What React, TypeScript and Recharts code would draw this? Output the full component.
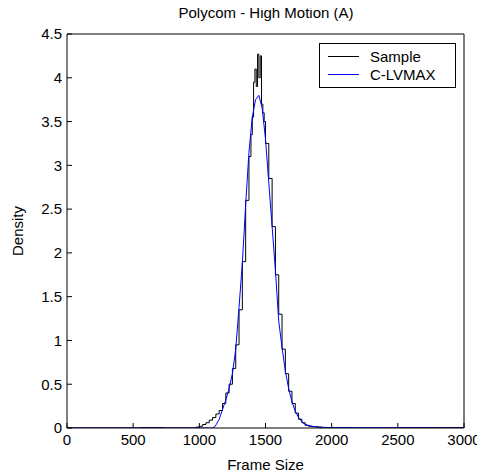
import { LineChart, Line, XAxis, YAxis } from "recharts";

// empirical histogram of frame sizes (bin start -> density, step plot)
const sampleX = [
  0, 500, 550, 600, 725, 975, 1000, 1025, 1050, 1075, 1100, 1125, 1150, 1175,
  1200, 1225, 1250, 1275, 1300, 1325, 1350, 1375, 1390, 1400, 1410, 1420,
  1430, 1440, 1450, 1460, 1470, 1480, 1490, 1500, 1525, 1550, 1575, 1600,
  1625, 1650, 1675, 1700, 1725, 1750, 1775, 1800, 1825, 1850, 1875, 1900,
  1925, 2525, 2550, 3000,
];
const sampleY = [
  0, 0, 0.005, 0.005, 0, 0.01, 0.02, 0.04, 0.06, 0.09, 0.12, 0.16, 0.2, 0.28,
  0.4, 0.5, 0.68, 0.95, 1.35, 1.9, 2.6, 3.1, 3.35, 3.55, 3.95, 4.1, 3.9, 4.27,
  4.0, 4.25, 3.7, 3.6, 3.5, 3.25, 2.85, 2.3, 1.75, 1.3, 0.9, 0.62, 0.42, 0.28,
  0.17, 0.1, 0.06, 0.03, 0.02, 0.015, 0.015, 0.01, 0, 0.005, 0.005, 0.005,
];

// fitted C-LVMAX density
const fitX = [
  0, 1100, 1120, 1150, 1200, 1225, 1250, 1275, 1300, 1325, 1350, 1375, 1400,
  1425, 1450, 1475, 1500, 1525, 1550, 1575, 1600, 1625, 1650, 1675, 1700,
  1725, 1750, 1775, 1800, 1850, 1900, 2000, 3000,
];
const fitY = [
  0, 0, 0.02, 0.1, 0.32, 0.45, 0.62, 0.9, 1.38, 1.88, 2.55, 3.15, 3.55, 3.75,
  3.8, 3.65, 3.3, 2.8, 2.3, 1.8, 1.22, 0.92, 0.65, 0.45, 0.3, 0.19, 0.12,
  0.07, 0.04, 0.02, 0.01, 0.005, 0,
];

const xTicks = [0, 500, 1000, 1500, 2000, 2500, 3000];
const yTicks = [0, 0.5, 1, 1.5, 2, 2.5, 3, 3.5, 4, 4.5];

const sampleData = sampleX.map((x, i) => ({ x, y: sampleY[i] }));
const fitData = fitX.map((x, i) => ({ x, y: fitY[i] }));

const FONT = "'Liberation Sans', Arial, sans-serif";
const FS = 15;
const tickStyle = { fontSize: FS, fill: "#000", fontFamily: FONT };

const legendRows = [
  { label: "Sample", color: "#000" },
  { label: "C-LVMAX", color: "#0000ff" },
];

function LegendBox() {
  return (
    <div
      style={{
        position: "absolute",
        left: 311,
        top: 35,
        width: 135,
        height: 43,
        border: "1px solid #000",
        background: "#fff",
        fontFamily: FONT,
        fontSize: FS,
      }}
    >
      {legendRows.map((r, i) => (
        <div
          key={r.label}
          style={{ position: "absolute", left: 8, top: 4 + i * 18, height: 17, display: "flex", alignItems: "center" }}
        >
          <div style={{ width: 31, height: 1, background: r.color, marginRight: 11 }} />
          <span>{r.label}</span>
        </div>
      ))}
    </div>
  );
}

export default function App() {
  return (
    <div style={{ position: "relative", width: 477, height: 467, fontFamily: FONT }}>
      <LineChart width={477} height={467} margin={{ top: 25, right: 20, bottom: 0, left: 0 }}>
        <XAxis
          dataKey="x"
          type="number"
          domain={[0, 3000]}
          ticks={xTicks}
          allowDataOverflow
          height={47}
          tickSize={-5}
          tickMargin={11}
          stroke="#000"
          tick={tickStyle}
          label={{ value: "Frame Size", position: "insideBottom", offset: 0, dy: -5, style: tickStyle }}
        />
        <XAxis
          xAxisId="top"
          orientation="top"
          dataKey="x"
          type="number"
          domain={[0, 3000]}
          ticks={xTicks}
          height={1}
          tickSize={-5}
          tick={false}
          stroke="#000"
        />
        <YAxis
          type="number"
          domain={[0, 4.5]}
          ticks={yTicks}
          allowDataOverflow
          width={59}
          tickSize={-5}
          tickMargin={10}
          stroke="#000"
          tick={tickStyle}
          label={{ value: "Density", angle: -90, position: "insideLeft", offset: 10, style: { ...tickStyle, textAnchor: "middle" } }}
        />
        <YAxis
          yAxisId="right"
          orientation="right"
          type="number"
          domain={[0, 4.5]}
          ticks={yTicks}
          width={1}
          tickSize={-5}
          tick={false}
          stroke="#000"
        />
        <Line
          data={sampleData}
          dataKey="y"
          type="stepAfter"
          stroke="#000"
          strokeWidth={1}
          dot={false}
          isAnimationActive={false}
        />
        <Line
          data={fitData}
          dataKey="y"
          type="linear"
          stroke="#0000ff"
          strokeWidth={1}
          dot={false}
          isAnimationActive={false}
        />
      </LineChart>
      <div
        style={{
          position: "absolute",
          top: -3,
          left: 59,
          width: 398,
          textAlign: "center",
          fontSize: FS,
          lineHeight: "16px",
        }}
      >
        Polycom - High Motion (A)
      </div>
      <LegendBox />
    </div>
  );
}
